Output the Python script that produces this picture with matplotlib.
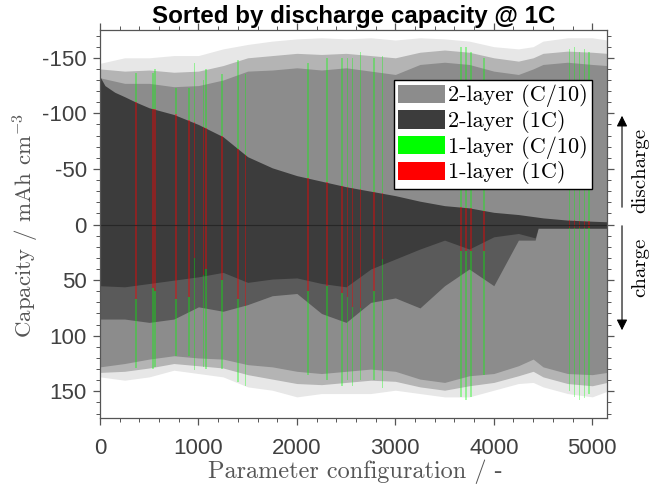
import matplotlib
matplotlib.use('Agg')
import matplotlib.pyplot as plt
from matplotlib.patches import Patch
from matplotlib.ticker import MultipleLocator, FixedLocator, FixedFormatter

plt.rcParams['mathtext.fontset'] = 'cm'

# ---------------- data ----------------
# 2-layer C/10, sampled envelope (discharge negative, charge positive)
cfg_c10 = [0, 250, 500, 750, 1000, 1250, 1500, 1750, 2000, 2250, 2500, 2750,
           3000, 3250, 3500, 3750, 4000, 4250, 4400, 4500, 4750, 5000, 5150]
c10_dis_core = [-132, -127, -127, -124, -125, -130, -138, -139, -141, -139, -141, -138,
                -135, -144, -146, -144, -138, -135, -140, -144, -146, -144, -143]
c10_dis_mid = [-140, -138, -139, -137, -138, -143, -150, -152, -154, -153, -154, -152,
               -150, -155, -157, -155, -150, -147, -150, -154, -156, -155, -154]
c10_dis_peak = [-145, -150, -150, -152, -152, -158, -162, -165, -167, -168, -167, -168,
                -166, -168, -167, -165, -160, -158, -160, -165, -168, -168, -166]
c10_chg_core = [128, 125, 121, 118, 120, 121, 126, 128, 132, 134, 132, 130,
                132, 139, 142, 136, 134, 127, 121, 128, 134, 135, 133]
c10_chg_mid = [133, 132, 129, 125, 127, 129, 135, 139, 143, 144, 142, 140,
               141, 146, 149, 145, 142, 136, 132, 137, 143, 145, 142]
c10_chg_peak = [137, 140, 137, 131, 134, 137, 146, 149, 155, 152, 152, 152,
                149, 152, 155, 155, 149, 143, 142, 146, 152, 155, 150]

# 2-layer 1C discharge (sorted)
cfg_c1_dis = [0, 50, 150, 250, 367, 500, 750, 1000, 1250, 1500, 1750, 2000, 2250,
              2500, 2750, 3000, 3250, 3500, 3750, 4000, 4250, 4500, 4750, 5000, 5150]
c1_dis = [-133, -125, -119, -115, -110, -105, -99, -90, -79, -61, -51, -44, -39,
          -34, -30, -26, -21, -17, -15, -11, -9, -6, -4, -3, -2.5]

# 2-layer 1C charge envelope
cfg_c1_chg = [0, 250, 500, 750, 1000, 1250, 1500, 1750, 2000, 2250, 2500, 2750,
              3000, 3250, 3500, 3750, 4000, 4250, 4420, 4450, 4750, 5000, 5150]
c1_chg_core = [55, 56, 53, 50, 47, 43, 52, 49, 48, 53, 56, 40,
               31, 22, 14, 22, 11, 8, 12, 3, 3, 3, 3]
c1_chg_peak = [85, 85, 88, 85, 74, 78, 72, 64, 62, 80, 88, 70,
               66, 75, 55, 40, 55, 14, 14, 3.5, 3.5, 3.5, 3.5]

# 1-layer configurations
one_idx = [367, 532, 544, 556, 770, 906, 960, 1050, 1076, 1239, 1402, 1477,
           2110, 2308, 2461, 2512, 2563, 2648, 2783, 2868, 3666, 3717, 3768,
           3903, 4769, 4820, 4870, 4920, 4970]
one_c10_dis = [-136, -136, -136, -140, -123, -123, -145, -130, -140, -135, -148, -135,
               -145, -150, -150, -150, -150, -155, -150, -152, -160, -160, -155,
               -150, -158, -160, -155, -158, -155]
one_c1_dis = [-110, -104, -104, -104, -99, -94, -92, -88, -87, -80, -68, -63,
              -42, -38, -35, -34, -33, -32, -29, -28, -16, -15, -15,
              -12, -4, -4, -3.5, -3.5, -3]
one_c10_chg = [129, 130, 130, 128, 118, 118, 131, 128, 130, 130, 142, 145,
               135, 140, 145, 140, 145, 140, 140, 147, 155, 158, 155,
               135, 150, 155, 158, 156, 152]
one_c1_chg = [67, 57, 57, 60, 67, 65, 30, 45, 40, 50, 67, 73,
              60, 55, 62, 65, 74, 75, 60, 31, 24, 24, 24,
              24, 3, 3, 3, 3, 3]

xticks = [0, 1000, 2000, 3000, 4000, 5000]
yticks = [-150, -100, -50, 0, 50, 100, 150]
ytick_labels = ['-150', '-100', '-50', '0', '50', '100', '150']

legend_labels = ['2-layer (C/10)', '2-layer (1C)', '1-layer (C/10)', '1-layer (1C)']

# ---------------- style ----------------
GRAY = '#8c8c8c'
DARK = '#3c3c3c'
TXT = '#404040'
LAB = '#555555'

fig = plt.figure(figsize=(6.51, 4.91), dpi=100)
ax = fig.add_axes([100/651, 1-418/491, 507/651, 388/491])

# 2-layer C/10
for peak, mid, core in ((c10_dis_peak, c10_dis_mid, c10_dis_core),
                        (c10_chg_peak, c10_chg_mid, c10_chg_core)):
    ax.fill_between(cfg_c10, 0, peak, color='#e7e7e7', lw=0)
    ax.fill_between(cfg_c10, 0, mid, color='#b4b4b4', lw=0)
    ax.fill_between(cfg_c10, 0, core, color=GRAY, lw=0)

# 2-layer 1C
ax.fill_between(cfg_c1_chg, 0, c1_chg_peak, color='#5a5a5a', lw=0)
ax.fill_between(cfg_c1_chg, 0, c1_chg_core, color=DARK, lw=0)
ax.fill_between(cfg_c1_dis, 0, c1_dis, color=DARK, lw=0)

# 1-layer bars
bw = 16
g_dis = [g - r for g, r in zip(one_c10_dis, one_c1_dis)]
g_chg = [g - r for g, r in zip(one_c10_chg, one_c1_chg)]
ax.bar(one_idx, g_dis, bottom=one_c1_dis, width=bw, color=(0, 1, 0), alpha=0.35, lw=0)
ax.bar(one_idx, g_chg, bottom=one_c1_chg, width=bw, color=(0, 1, 0), alpha=0.35, lw=0)
ax.bar(one_idx, one_c1_dis, width=bw, color=(1, 0, 0), alpha=0.4, lw=0)
ax.bar(one_idx, one_c1_chg, width=bw, color=(1, 0, 0), alpha=0.4, lw=0)

ax.axhline(0, color='#222222', lw=0.8, alpha=0.8)

ax.set_xlim(0, 5150)
ax.set_ylim(174, -175)

ax.xaxis.set_major_locator(FixedLocator(xticks))
ax.xaxis.set_minor_locator(MultipleLocator(200))
ax.yaxis.set_major_locator(FixedLocator(yticks))
ax.yaxis.set_major_formatter(FixedFormatter(ytick_labels))
ax.yaxis.set_minor_locator(MultipleLocator(10))
ax.tick_params(which='both', direction='out', top=True, right=True,
               color='#555555', labelcolor=TXT, labelsize=16)
ax.tick_params(which='major', length=5, width=0.9)
ax.tick_params(which='minor', length=3, width=0.7)
ax.tick_params(axis='x', pad=9.5)
ax.tick_params(axis='y', pad=4.5)
for lab in ax.get_xticklabels() + ax.get_yticklabels():
    lab.set_family('Liberation Sans')
for s in ax.spines.values():
    s.set_color('#555555')
    s.set_linewidth(0.9)

ax.set_title('Sorted by discharge capacity @ 1C', fontweight='bold', fontsize=17.4,
             family='Liberation Sans', pad=5)

fig.text(355/651, 1-478/491, 'Parameter configuration / -', ha='center', va='baseline',
         family='cmr10', fontsize=17.5, color=LAB)
fig.text(33/651, 1-225/491, 'Capacity / mAh cm$^{-3}$', ha='center', va='baseline',
         rotation=90, rotation_mode='anchor', family='cmr10', fontsize=16.5, color=LAB)

# legend
handles = [Patch(facecolor=c, edgecolor='none') for c in (GRAY, DARK, '#00ff00', '#ff0000')]
leg = ax.legend(handles, legend_labels, loc='upper right',
                bbox_to_anchor=((592-100)/507, (418-80)/388),
                prop={'family': 'cmr10', 'size': 16}, fancybox=False, framealpha=1,
                edgecolor='black', handlelength=2.1, handleheight=0.9,
                handletextpad=0.12, labelspacing=0.12, borderpad=0.2, borderaxespad=0)
leg.get_frame().set_linewidth(1.0)

# discharge / charge arrows
ax.annotate('', xy=(1.0296, (418-113)/388), xytext=(1.0296, (418-210)/388),
            xycoords='axes fraction', textcoords='axes fraction',
            arrowprops=dict(arrowstyle='-|>', color='black', lw=0.8, mutation_scale=16))
ax.annotate('', xy=(1.0296, (418-333)/388), xytext=(1.0296, (418-223)/388),
            xycoords='axes fraction', textcoords='axes fraction',
            arrowprops=dict(arrowstyle='-|>', color='black', lw=0.8, mutation_scale=16))
ax.text((640-100)/507, (418-170)/388, 'discharge', rotation=90, transform=ax.transAxes,
        ha='center', va='center', family='cmr10', fontsize=15)
ax.text((640-100)/507, (418-267)/388, 'charge', rotation=90, transform=ax.transAxes,
        ha='center', va='center', family='cmr10', fontsize=15)

fig.savefig('out.png', dpi=100)
